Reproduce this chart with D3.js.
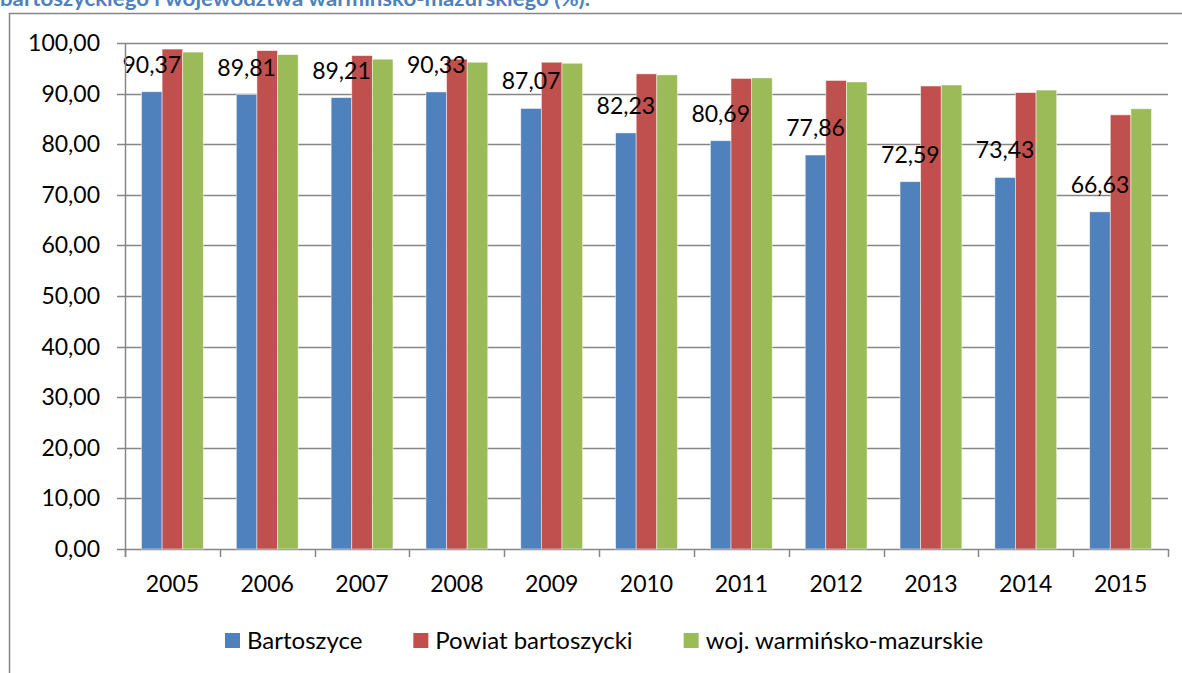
<!DOCTYPE html>
<html>
<head>
<meta charset="utf-8">
<script src="https://cdn.jsdelivr.net/npm/d3@7"></script>
<style>
  html, body { margin: 0; padding: 0; background: #fff; overflow: hidden; }
  svg { display: block; font-family: Lato, "Noto Sans", sans-serif; }
</style>
</head>
<body>
<div id="chart"></div>
<script>
const years = ["2005", "2006", "2007", "2008", "2009", "2010", "2011", "2012", "2013", "2014", "2015"];
const seriesNames = ["Bartoszyce", "Powiat bartoszycki", "woj. warmińsko-mazurskie"];
const bartoszyce = [90.37, 89.81, 89.21, 90.33, 87.07, 82.23, 80.69, 77.86, 72.59, 73.43, 66.63];
const powiat = [98.8, 98.5, 97.5, 96.8, 96.2, 93.9, 93.0, 92.6, 91.5, 90.2, 85.8];
const wojewodztwo = [98.2, 97.7, 96.8, 96.2, 96.0, 93.7, 93.1, 92.3, 91.7, 90.7, 87.0];
const yTicks = [0, 10, 20, 30, 40, 50, 60, 70, 80, 90, 100];
const colors = ["#4f81bd", "#c0504d", "#9bbb59"];
const title = "bartoszyckiego i województwa warmińsko-mazurskiego (%).";

const width = 1182, height = 673;
let margin = {top: 43, right: 14, bottom: 124, left: 125};
const fontSize = 23;

const svg = d3.select("#chart").append("svg")
  .attr("width", width)
  .attr("height", height);

// title, cut by the top of the page
svg.append("text")
  .attr("x", 0)
  .attr("y", 6)
  .attr("fill", "#4f81bd")
  .attr("font-weight", "bold")
  .attr("font-size", 21)
  .attr("textLength", 590)
  .attr("lengthAdjust", "spacingAndGlyphs")
  .text(title);

// chart frame
svg.append("rect")
  .attr("x", 9.5)
  .attr("y", 13.5)
  .attr("width", width)
  .attr("height", height)
  .attr("fill", "none")
  .attr("stroke", "#868686")
  .attr("stroke-width", 1.5);

const x0 = d3.scaleBand()
  .domain(years)
  .range([margin.left, width - margin.right])
  .paddingInner(0)
  .paddingOuter(0);

const x1 = d3.scaleBand()
  .domain(d3.range(3))
  .range([0, x0.bandwidth()])
  .paddingOuter(0.8)
  .paddingInner(0);

const y = d3.scaleLinear()
  .domain([0, 100])
  .range([height - margin.bottom, margin.top]);

const fmt = v => d3.format(".2f")(v).replace(".", ",");

// gridlines
svg.append("g")
  .selectAll("line")
  .data(yTicks)
  .enter()
  .append("line")
  .attr("x1", margin.left - 8)
  .attr("x2", width - margin.right)
  .attr("y1", d => Math.round(y(d)) + 0.5)
  .attr("y2", d => Math.round(y(d)) + 0.5)
  .attr("stroke", "#868686")
  .attr("stroke-width", 1.5);

// y labels
svg.append("g")
  .selectAll("text")
  .data(yTicks)
  .enter()
  .append("text")
  .attr("x", 100)
  .attr("y", d => y(d) + 8)
  .attr("text-anchor", "end")
  .attr("font-size", fontSize)
  .attr("fill", "#000")
  .text(fmt);

const series = [bartoszyce, powiat, wojewodztwo];

const groups = svg.append("g")
  .selectAll("g")
  .data(years)
  .enter()
  .append("g")
  .attr("transform", d => "translate(" + x0(d) + ",0)");

groups.selectAll("rect")
  .data((d, i) => series.map((s, k) => ({k: k, v: s[i]})))
  .enter()
  .append("rect")
  .attr("x", d => x1(d.k))
  .attr("width", x1.bandwidth())
  .attr("y", d => y(d.v))
  .attr("height", d => y(0) - y(d.v))
  .attr("fill", d => colors[d.k])
  .attr("stroke", "#ffffff")
  .attr("stroke-opacity", 0.6)
  .attr("stroke-width", 0.8);

// data labels for Bartoszyce
groups.append("text")
  .attr("x", x1(0) + x1.bandwidth() / 2)
  .attr("y", (d, i) => y(bartoszyce[i]) - 19)
  .attr("text-anchor", "middle")
  .attr("font-size", fontSize)
  .attr("fill", "#000")
  .text((d, i) => fmt(bartoszyce[i]));

// axes lines
svg.append("line")
  .attr("x1", margin.left + 0.5)
  .attr("x2", margin.left + 0.5)
  .attr("y1", y(100))
  .attr("y2", y(0) + 8)
  .attr("stroke", "#868686")
  .attr("stroke-width", 1.5);

svg.append("g")
  .selectAll("line")
  .data(years.concat(["end"]))
  .enter()
  .append("line")
  .attr("x1", (d, i) => Math.round(margin.left + i * x0.step()) + 0.5)
  .attr("x2", (d, i) => Math.round(margin.left + i * x0.step()) + 0.5)
  .attr("y1", y(0))
  .attr("y2", y(0) + 8)
  .attr("stroke", "#868686")
  .attr("stroke-width", 1.5);

svg.append("g")
  .selectAll("text")
  .data(years)
  .enter()
  .append("text")
  .attr("x", d => x0(d) + x0.bandwidth() / 2)
  .attr("y", y(0) + 43)
  .attr("text-anchor", "middle")
  .attr("font-size", fontSize)
  .attr("fill", "#000")
  .text(d => d);

// legend
const legend = svg.append("g");
let lx = 225;
seriesNames.forEach((name, k) => {
  legend.append("rect")
    .attr("x", lx)
    .attr("y", 633)
    .attr("width", 15)
    .attr("height", 15)
    .attr("fill", colors[k]);
  const t = legend.append("text")
    .attr("x", lx + 22)
    .attr("y", 649)
    .attr("font-size", 24)
    .attr("fill", "#000")
    .text(name);
  lx += 22 + t.node().getComputedTextLength() + 51;
});
</script>
</body>
</html>
